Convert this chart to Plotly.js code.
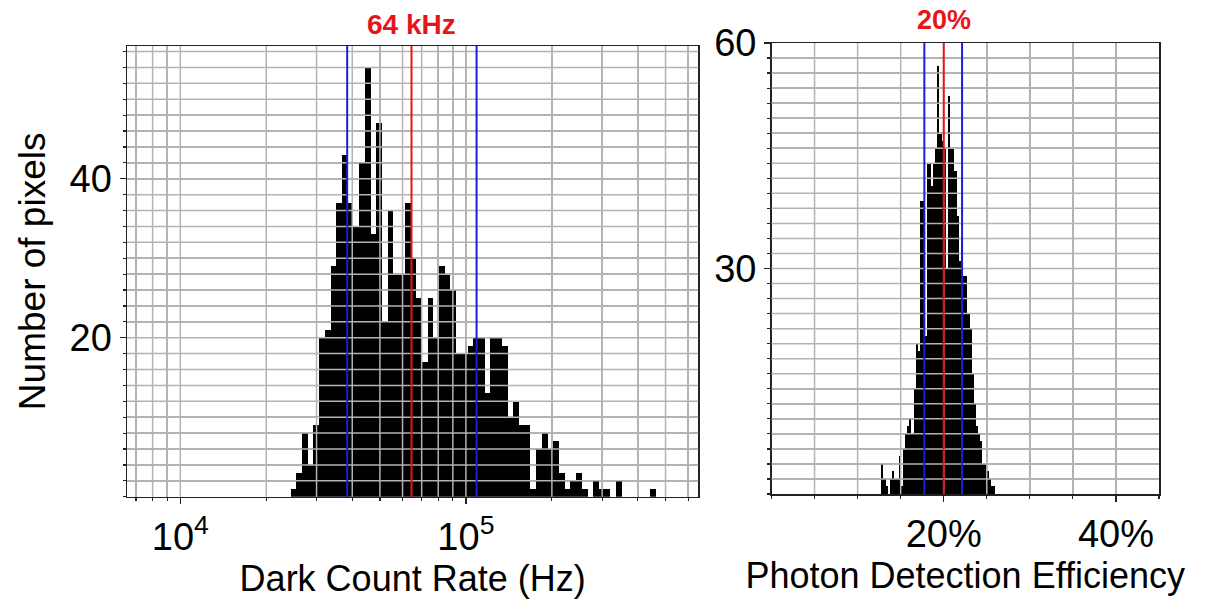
<!DOCTYPE html>
<html><head><meta charset="utf-8">
<script src="https://cdn.plot.ly/plotly-3.0.1.min.js"></script>
<style>html,body{margin:0;padding:0;background:#fff}#chart{width:1212px;height:604px}</style>
</head><body><div id="chart"></div>
<script>
// ---------- data ----------
// Left panel: dark count rate histogram, bins of 0.02 decade (log10 Hz)
const dcrFirstBinLog10 = 4.396;
const dcrBinLog10 = 0.02;
const dcrCounts = [1,3,8,4,9,20,21,29,37,43,37,34,42,54,33,47,22,36,28,28,37,30,
  25,17,25,20,29,28,26,18,18,19,20,20,13,
  20,20,19,10,12,9,9,1,6,8,6,7,3,1,2,3,1,0,2,1,1,0,2,0,0,0,0,0,1];
// Right panel: photon detection efficiency histogram, bins of 0.25 %
const pdeFirstBinPct = 12.875;
const pdeBinPct = 0.25;
const pdeCounts = [4,2,1,0,2,3,2,2,5,1,6,8,9,10,8,14,20,19,39,39,
  21,44,44,41,44,46,57,48,47,46,30,53,46,46,43,37,31,33,29,29,24,22,16,12,9,8,7,4,4,3,2,1,1];
// marker lines (blue = lower/upper, red = median)
const dcrMarkersHz = [38.4e3, 64.5e3, 109e3];
const pdeMarkersPct = [17.75, 20.0, 22.13];
const markerColors = ['#1c1ce0', '#e8141a', '#1c1ce0'];
const headerTexts = ['64 kHz', '20%'];
// tick labels
const dcrXTickHz = [1e4, 1e5];
const dcrXTickText = ['10<sup>4</sup>', '10<sup>5</sup>'];
const dcrYTicks = [20, 40];
const dcrYTickText = ['20', '40'];
const pdeXTicks = [20, 40];
const pdeXTickText = ['20%', '40%'];
const pdeYTicks = [30, 60];
const pdeYTickText = ['30', '60'];
const xTitleLeft = 'Dark Count Rate (Hz)';
const xTitleRight = 'Photon Detection Efficiency';
const yTitle = 'Number of pixels';

// ---------- axis ranges / gridlines ----------
const dcrXRange = [3.8134, 5.8138];   // log10(Hz)
const dcrYRange = [0, 56.7];
const pdeXRange = [0, 45];
const pdeYRange = [0, 60];
const dcrMinorHz = [];
[1e3, 1e4, 1e5].forEach(d => { for (let k = 1; k <= 9; k++) { const v = Math.log10(k * d); if (v > dcrXRange[0] && v < dcrXRange[1]) dcrMinorHz.push(v); } });
const dcrHGrid = []; for (let v = 2; v < dcrYRange[1]; v += 2) dcrHGrid.push(v);
const pdeVGrid = []; for (let v = 5; v < pdeXRange[1]; v += 5) pdeVGrid.push(v);
const pdeHGrid = []; for (let v = 2; v < pdeYRange[1]; v += 2) pdeHGrid.push(v);

const FONT = 'Liberation Sans, Arial, sans-serif';
const GRID = '#b3b3b3';
const traces = [
  {type: 'bar', x0: dcrFirstBinLog10, dx: dcrBinLog10, y: dcrCounts, width: dcrBinLog10,
   marker: {color: '#000', line: {width: 0}}, xaxis: 'x', yaxis: 'y', hoverinfo: 'skip'},
  {type: 'bar', x0: pdeFirstBinPct, dx: pdeBinPct, y: pdeCounts, width: pdeBinPct,
   marker: {color: '#000', line: {width: 0}}, xaxis: 'x2', yaxis: 'y2', hoverinfo: 'skip'}
];

const shapes = [];
const gl = {color: GRID, width: 1.5};
dcrMinorHz.forEach(v => shapes.push({type: 'line', layer: 'above', xref: 'x', yref: 'y domain', x0: v, x1: v, y0: 0, y1: 1, line: gl}));
dcrHGrid.forEach(v => shapes.push({type: 'line', layer: 'above', xref: 'x domain', yref: 'y', x0: 0, x1: 1, y0: v, y1: v, line: gl}));
pdeVGrid.forEach(v => shapes.push({type: 'line', layer: 'above', xref: 'x2', yref: 'y2 domain', x0: v, x1: v, y0: 0, y1: 1, line: gl}));
pdeHGrid.forEach(v => shapes.push({type: 'line', layer: 'above', xref: 'x2 domain', yref: 'y2', x0: 0, x1: 1, y0: v, y1: v, line: gl}));
dcrMarkersHz.forEach((v, i) => shapes.push({type: 'line', layer: 'above', xref: 'x', yref: 'y domain', x0: Math.log10(v), x1: Math.log10(v), y0: 0, y1: 1, line: {color: markerColors[i], width: 2}}));
pdeMarkersPct.forEach((v, i) => shapes.push({type: 'line', layer: 'above', xref: 'x2', yref: 'y2 domain', x0: v, x1: v, y0: 0, y1: 1, line: {color: markerColors[i], width: 2}}));

const W = 1212, H = 604, ML = 127, MR = 52.7, MT = 43, MB = 107;
const PW = W - ML - MR, PH = H - MT - MB;
const px = x => (x - ML) / PW;
const py = y => (H - MB - y) / PH;

const axisCommon = {showline: true, linecolor: '#222', linewidth: 1.5, mirror: true, layer: 'above traces',
  ticks: 'outside', tickcolor: '#222', tickwidth: 1.2, zeroline: false, showgrid: false,
  tickfont: {family: FONT, size: 38, color: '#000'}, fixedrange: true};
const minorCommon = {ticks: 'outside', ticklen: 3, tickcolor: '#222', showgrid: true, gridcolor: GRID, gridwidth: 1.5};

const layout = {
  width: W, height: H, margin: {l: ML, r: MR, t: MT, b: MB, pad: 0},
  paper_bgcolor: '#fff', plot_bgcolor: '#fff', showlegend: false, bargap: 0,
  font: {family: FONT, color: '#000'},
  xaxis: Object.assign({}, axisCommon, {domain: [0, px(698.5)], range: dcrXRange, anchor: 'y',
    tickmode: 'array', tickvals: dcrXTickHz.map(Math.log10), ticktext: dcrXTickText, ticklen: 6,
    minor: Object.assign({tickmode: 'array', tickvals: dcrMinorHz}, minorCommon),
    title: {text: xTitleLeft, font: {family: FONT, size: 36}, standoff: 8}}),
  yaxis: Object.assign({}, axisCommon, {domain: [py(496.7), py(46)], range: dcrYRange, anchor: 'x',
    tickmode: 'array', tickvals: dcrYTicks, ticktext: dcrYTickText, ticklen: 6,
    minor: Object.assign({dtick: 2, tick0: 0}, minorCommon),
    title: {text: yTitle, font: {family: FONT, size: 37}, standoff: 12}}),
  xaxis2: Object.assign({}, axisCommon, {domain: [px(771.7), 1], range: pdeXRange, anchor: 'y2',
    tickmode: 'array', tickvals: pdeXTicks, ticktext: pdeXTickText, ticklen: 6,
    minor: Object.assign({dtick: 5, tick0: 0}, minorCommon),
    title: {text: xTitleRight, font: {family: FONT, size: 36}, standoff: 8}}),
  yaxis2: Object.assign({}, axisCommon, {domain: [py(494), py(43)], range: pdeYRange, anchor: 'x2',
    tickmode: 'array', tickvals: pdeYTicks, ticktext: pdeYTickText, ticklen: 6,
    minor: Object.assign({dtick: 2, tick0: 0}, minorCommon)}),
  shapes: shapes,
  annotations: [
    {text: '<b>' + headerTexts[0] + '</b>', xref: 'x', yref: 'paper', x: Math.log10(dcrMarkersHz[1]), y: py(25), yanchor: 'middle', xanchor: 'center', showarrow: false, font: {family: FONT, size: 28, color: markerColors[1]}},
    {text: '<b>' + headerTexts[1] + '</b>', xref: 'x2', yref: 'paper', x: pdeMarkersPct[1], y: py(20), yanchor: 'middle', xanchor: 'center', showarrow: false, font: {family: FONT, size: 27, color: markerColors[1]}}
  ]
};

Plotly.newPlot('chart', traces, layout, {staticPlot: true, displayModeBar: false});
</script>
</body></html>
